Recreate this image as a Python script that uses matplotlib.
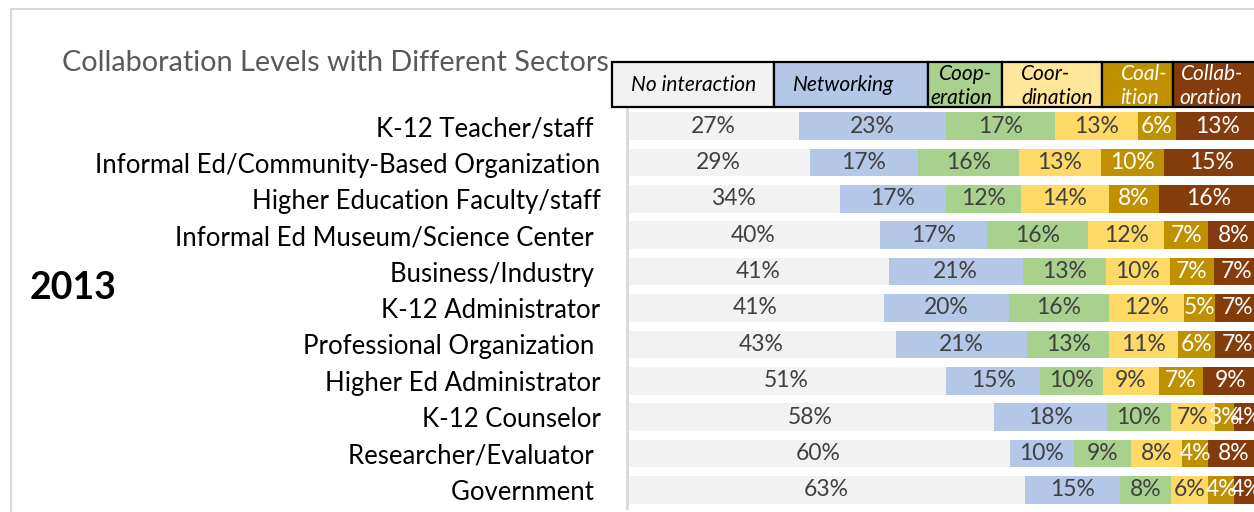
import matplotlib.pyplot as plt
from matplotlib.patches import Rectangle

plt.rcParams['font.family'] = ['Lato', 'DejaVu Sans']

sectors = ['K-12 Teacher/staff ', 'Informal Ed/Community-Based Organization',
           'Higher Education Faculty/staff', 'Informal Ed Museum/Science Center ',
           'Business/Industry ', 'K-12 Administrator', 'Professional Organization ',
           'Higher Ed Administrator', 'K-12 Counselor', 'Researcher/Evaluator ',
           'Government ']
levels = ['No interaction', 'Networking', 'Cooperation', 'Coordination', 'Coalition', 'Collaboration']
no_interaction = [27, 29, 34, 40, 41, 41, 43, 51, 58, 60, 63]
networking = [23, 17, 17, 17, 21, 20, 21, 15, 18, 10, 15]
cooperation = [17, 16, 12, 16, 13, 16, 13, 10, 10, 9, 8]
coordination = [13, 13, 14, 12, 10, 12, 11, 9, 7, 8, 6]
coalition = [6, 10, 8, 7, 7, 5, 6, 7, 3, 4, 4]
collaboration = [13, 15, 16, 8, 7, 7, 7, 9, 4, 8, 4]
series = [no_interaction, networking, cooperation, coordination, coalition, collaboration]

bar_colors = ['#F2F2F2', '#B4C7E7', '#A9D18E', '#FFD966', '#BF9000', '#843C0C']
text_colors = ['#404040', '#404040', '#404040', '#404040', 'white', 'white']

# 100% stacked: each row is scaled to its own total
totals = [sum(r) for r in zip(*series)]

W, H = 1254, 512
fig = plt.figure(figsize=(W / 100, H / 100), dpi=100)


def fx(px):
    return px / W


def fy(py):
    return 1 - py / H


# outer chart border (light gray), runs off the right and bottom
fig.patches.append(Rectangle((fx(10.5), fy(700)), fx(1400), fy(8.5) - fy(700),
                             transform=fig.transFigure, fill=False,
                             edgecolor='#D9D9D9', linewidth=1.5))

ax = fig.add_axes([fx(627), fy(508), fx(632), fy(108) - fy(508)])
ypos = list(range(len(sectors)))
left = [0] * len(sectors)
for vals, col, tcol in zip(series, bar_colors, text_colors):
    shares = [v * 100.0 / t for v, t in zip(vals, totals)]
    bars = ax.barh(ypos, shares, left=left, height=0.76, color=col, edgecolor='none')
    for b, v in zip(bars, vals):
        ax.text(b.get_x() + b.get_width() / 2, b.get_y() + b.get_height() / 2,
                '%d%%' % v, ha='center', va='center', fontsize=16.5, color=tcol,
                clip_on=False)
    left = [l + s for l, s in zip(left, shares)]

ax.set_xlim(0, 100)
ax.set_ylim(len(sectors) - 0.5, -0.5)
ax.set_yticks(ypos)
ax.set_yticklabels(sectors, fontsize=18.5, color='black')
ax.tick_params(axis='y', length=0, pad=19)
ax.set_xticks([])
for s in ['top', 'right', 'bottom']:
    ax.spines[s].set_visible(False)
ax.spines['left'].set_color('#D9D9D9')
ax.spines['left'].set_linewidth(2)

fig.text(fx(62), fy(63), 'Collaboration Levels with Different Sectors',
         fontsize=20.8, color='#595959', ha='left', va='center')
fig.text(fx(30), fy(288), '2013', fontsize=27, fontweight='bold',
         color='black', ha='left', va='center')

# header "legend" boxes
header = [
    (612, 774, '#F2F2F2', 'black', [('No interaction', 631, 85)]),
    (774, 928, '#B4C7E7', 'black', [('Networking', 793, 85)]),
    (928, 1002, '#A9D18E', 'black', [('Coop-', 939, 74), ('eration', 930, 98)]),
    (1002, 1102, '#FFE699', 'black', [('Coor-', 1021, 74), ('dination', 1021, 98)]),
    (1102, 1173, '#BF9000', 'white', [('Coal-', 1121, 74), ('ition', 1120, 98)]),
    (1173, 1275, '#843C0C', 'white', [('Collab-', 1181, 74), ('oration', 1179, 98)]),
]
for x0, x1, fc, tc, lines in header:
    fig.patches.append(Rectangle((fx(x0), fy(107)), fx(x1 - x0), fy(62) - fy(107),
                                 transform=fig.transFigure, facecolor=fc,
                                 edgecolor='black', linewidth=1.6))
    for txt, tx, ty in lines:
        fig.text(fx(tx), fy(ty), txt, fontsize=15, style='italic', color=tc,
                 ha='left', va='center')

fig.savefig('out.png', dpi=100)
